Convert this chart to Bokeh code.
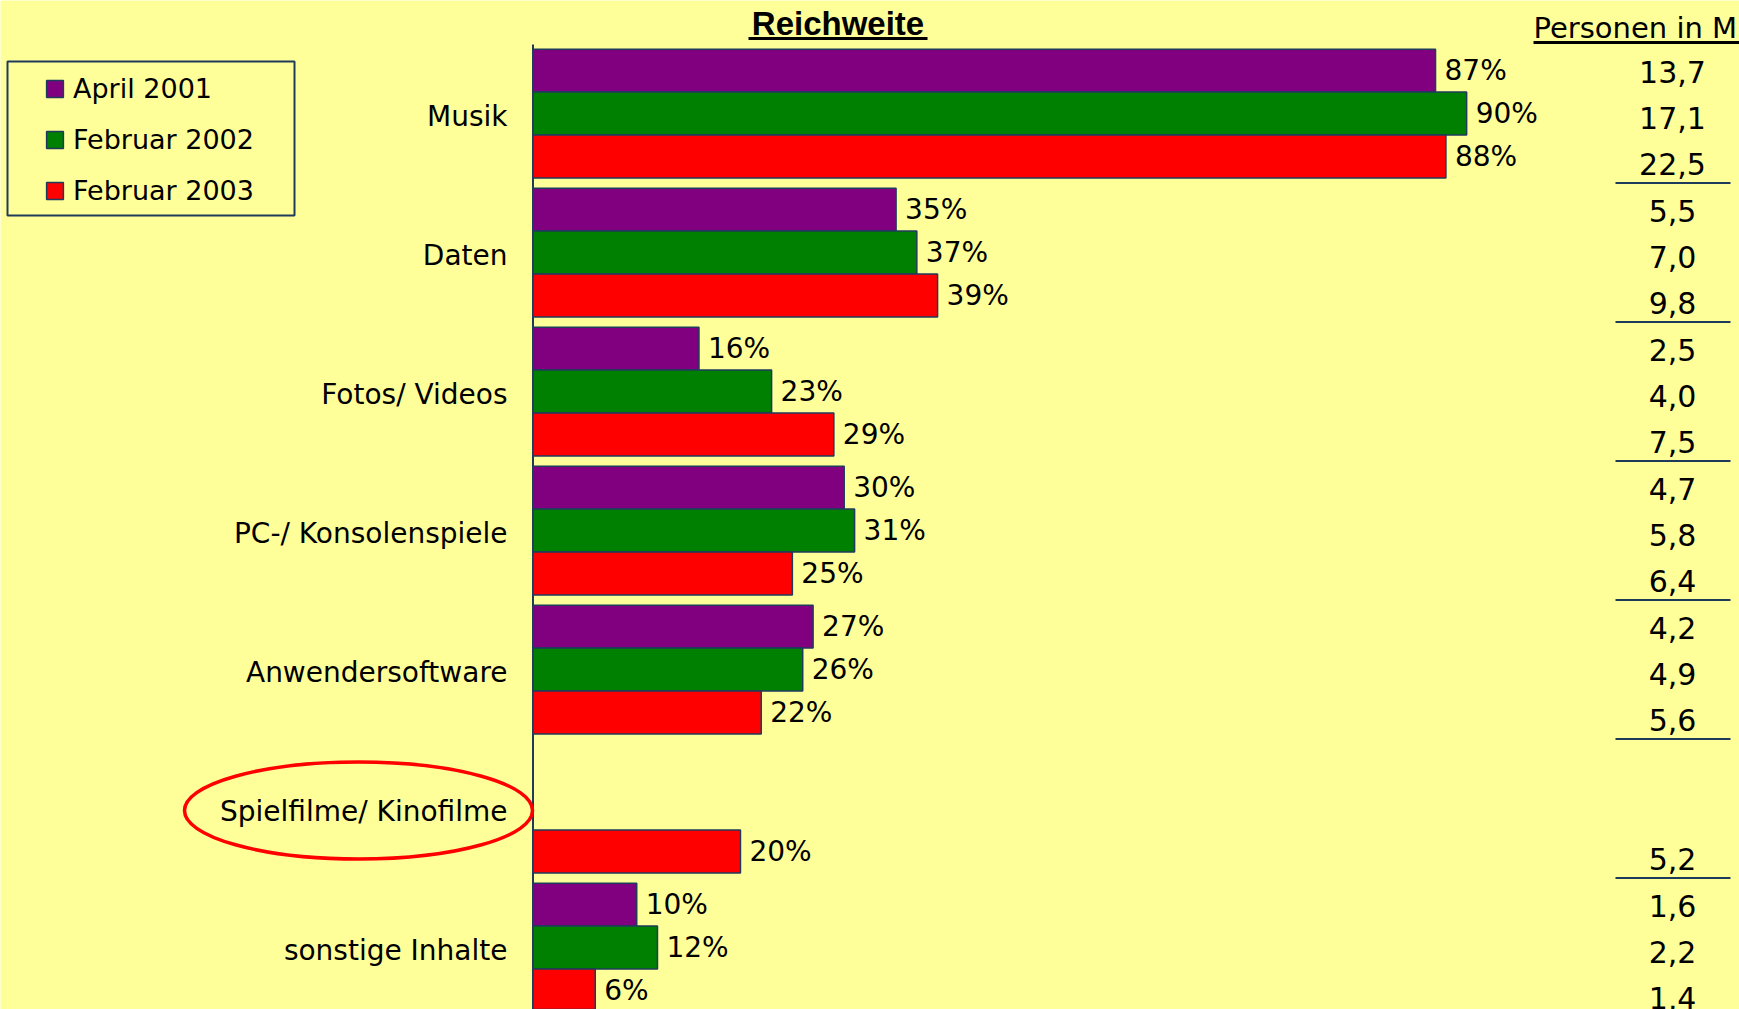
from bokeh.plotting import figure
from bokeh.models import ColumnDataSource, Range1d, Legend, LegendItem
from bokeh.core.properties import value
from bokeh.embed import file_html
from bokeh.resources import INLINE

# ---------------- data ----------------
categories = ["Musik", "Daten", "Fotos/ Videos", "PC-/ Konsolenspiele",
              "Anwendersoftware", "Spielfilme/ Kinofilme", "sonstige Inhalte"]
series_names = ["April 2001", "Februar 2002", "Februar 2003"]
reach_apr2001 = [87, 35, 16, 30, 27, None, 10]
reach_feb2002 = [90, 37, 23, 31, 26, None, 12]
reach_feb2003 = [88, 39, 29, 25, 22, 20, 6]
pers_apr2001 = [13.7, 5.5, 2.5, 4.7, 4.2, None, 1.6]
pers_feb2002 = [17.1, 7.0, 4.0, 5.8, 4.9, None, 2.2]
pers_feb2003 = [22.5, 9.8, 7.5, 6.4, 5.6, 5.2, 1.4]
title_left = "Reichweite"
title_right = "Personen in Mio."

# ---------------- style ----------------
BG = "#FFFF99"
NAVY = "#1F3B5C"
COLORS = ["#800080", "#008000", "#FF0000"]
FONT = "DejaVu Sans"

W, H = 1739, 1009
X0, PXP = 532.5, 10.374      # pixel of 0 %, pixels per %
Y0, PXG = 113.1, 139.0       # pixel of first group centre, pixels per group


def dx(px):
    return (px - X0) / PXP


def dy(py):
    return (py - Y0) / PXG


p = figure(width=W, height=H, x_range=Range1d(dx(0), dx(W)),
           y_range=Range1d(dy(H), dy(0)), output_backend="svg",
           toolbar_location=None, x_axis_location=None, y_axis_location=None,
           min_border=0, background_fill_color=BG, border_fill_color=BG,
           outline_line_color=None)
p.grid.visible = False

offsets = [-0.309, 0.0, 0.309]
reach = [reach_apr2001, reach_feb2002, reach_feb2003]
pers = [pers_apr2001, pers_feb2002, pers_feb2003]

# axis line
p.segment(x0=[0], y0=[dy(44)], x1=[0], y1=[dy(H + 20)], line_color=NAVY, line_width=2)

renderers = []
for j, vals in enumerate(reach):
    ys = [g + offsets[j] for g, v in enumerate(vals) if v is not None]
    xs = [v for v in vals if v is not None]
    src = ColumnDataSource(dict(y=ys, right=xs, lab=[f"{v}%" for v in xs]))
    r = p.hbar(y="y", left=0, right="right", height=0.309, fill_color=COLORS[j],
               line_color=NAVY, line_width=1.5, source=src)
    renderers.append(r)
    p.text(x="right", y="y", text="lab", x_offset=9, text_align="left",
           text_baseline="middle", text_font=value(FONT), text_font_size="28px",
           text_color="black", source=src)

# category labels
p.text(x=[dx(507)] * len(categories), y=[g + 0.02 for g in range(len(categories))],
       text=categories, text_align="right", text_baseline="middle",
       text_font=value(FONT), text_font_size="28px", text_color="black")

# right column: persons in millions
vx, vy, vt = [], [], []
for j, vals in enumerate(pers):
    for g, v in enumerate(vals):
        if v is None:
            continue
        vx.append(dx(1672))
        vy.append(g + (j - 1) * 0.33 + 0.03)
        vt.append(f"{v:.1f}".replace(".", ","))
p.text(x=vx, y=vy, text=vt, text_align="center", text_baseline="middle",
       text_font=value(FONT), text_font_size="30px", text_color="black")
sep_groups = list(range(len(categories) - 1))
p.segment(x0=[dx(1615)] * len(sep_groups), x1=[dx(1730)] * len(sep_groups),
          y0=[g + 0.5 for g in sep_groups], y1=[g + 0.5 for g in sep_groups],
          line_color=NAVY, line_width=2)

# headings
p.text(x=[dx(837.5)], y=[dy(23)], text=[title_left], text_align="center",
       text_baseline="middle", text_font=value("Liberation Sans"),
       text_font_style="bold", text_font_size="33px", text_color="black")
p.segment(x0=[dx(748)], x1=[dx(927)], y0=[dy(38)], y1=[dy(38)],
          line_color="black", line_width=3)
p.text(x=[dx(1533)], y=[dy(27)], text=[title_right], text_align="left",
       text_baseline="middle", text_font=value(FONT),
       text_font_size="29px", text_color="black")
p.segment(x0=[dx(1533)], x1=[dx(W + 10)], y0=[dy(42)], y1=[dy(42)],
          line_color="black", line_width=3)

# highlight ellipse
p.ellipse(x=[dx(358)], y=[dy(810)], width=[348 / PXP], height=[97 / PXG],
          fill_color=None, line_color="#FF0000", line_width=3.5)

# legend box
p.quad(left=[dx(7)], right=[dx(294)], top=[dy(61)], bottom=[dy(215)],
       fill_color=None, line_color=NAVY, line_width=2)
legend = Legend(items=[LegendItem(label=n, renderers=[r]) for n, r in zip(series_names, renderers)],
                location=(44, 803), orientation="vertical", padding=0, spacing=20,
                glyph_width=21, glyph_height=21, label_standoff=8,
                label_text_font=FONT, label_text_font_size="27px",
                label_text_color="black",
                border_line_color=None, background_fill_alpha=0, margin=0)
p.add_layout(legend)

open("out.html", "w").write(file_html(p, INLINE))
